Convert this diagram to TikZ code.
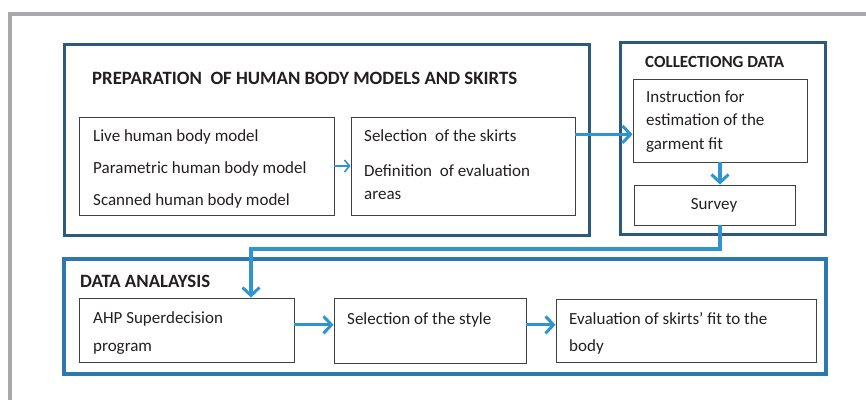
\documentclass[tikz,border=0pt]{standalone}
\usepackage{fontspec}
\setmainfont{Carlito}
\usetikzlibrary{arrows.meta,fit,calc}
\definecolor{framegray}{HTML}{A7A9AC}
\definecolor{darkblue}{HTML}{2C5A7E}
\definecolor{midblue}{HTML}{2E78B2}
\definecolor{flowblue}{HTML}{2F95D2}
\definecolor{inkgray}{HTML}{231F20}
\tikzset{
	stagebox/.style={draw=darkblue,line width=3pt,inner sep=0pt},
	stepbox/.style={draw=black!75,line width=0.9pt,inner sep=0pt},
	heading/.style={anchor=base west,inner sep=0pt,text=inkgray,font=\bfseries\fontsize{18.8}{22}\selectfont},
	label/.style={anchor=base west,inner sep=0pt,text=inkgray,font=\fontsize{17}{20}\selectfont},
	flow/.style={draw=flowblue,line width=3.2pt,-{Straight Barb[length=8pt,width=17pt,line width=3pt]}},
	thinflow/.style={draw=flowblue,line width=1.5pt,-{Straight Barb[length=5pt,width=12pt,line width=1.6pt]}},
}
\begin{document}
\begin{tikzpicture}[x=1pt,y=-1pt]
		\useasboundingbox (0,0) rectangle (866,400);
		
		% grey frame, top and left only
		\draw[framegray,line width=4pt] (9.5,400) -- (9.5,13.5) -- (866,13.5);
		
		% outer stages
		\node[stagebox,fit={(64,44)(589,235)}] (prep) {};
		\node[stagebox,fit={(620,42)(825,234)}] (collect) {};
		\node[stagebox,draw=midblue,line width=3.5pt,fit={(64,259)(826,374)}] (analysis) {};
		
		% steps inside the stages
		\node[stepbox,fit={(79,117)(334,215)}] (models) {};
		\node[stepbox,fit={(351,117)(575,215)}] (skirts) {};
		\node[stepbox,fit={(633,79)(807,162)}] (instr) {};
		\node[stepbox,fit={(634,185)(795,225)}] (survey) {};
		\node[stepbox,fit={(79,298)(294,362)}] (ahp) {};
		\node[stepbox,fit={(334,298)(526,363)}] (style) {};
		\node[stepbox,fit={(556,299)(816,362)}] (fit) {};
		
		% headings
		\node[heading] (hprep) at (92,84) {PREPARATION\ \ OF HUMAN BODY MODELS AND SKIRTS};
		\node[heading,font=\bfseries\fontsize{17}{20}\selectfont] (hcollect) at (645,67) {COLLECTIONG DATA};
		\node[heading] (hanalysis) at (80,287) {DATA ANALAYSIS};
		
		% texts of the steps
		\node[label] (live) at (93,141) {Live human body model};
		\node[label] (param) at (93,173) {Parametric human body model};
		\node[label] (scan) at (93,205) {Scanned human body model};
		\node[label] (sel) at (364,141) {Selection\ \ of the skirts};
		\node[label] (def) at (364,176) {Definition\ \ of evaluation};
		\node[label] (areas) at (364,199) {areas};
		\node[label] (ins1) at (646,102) {Instruction for};
		\node[label] (ins2) at (646,125) {estimation of the};
		\node[label] (ins3) at (646,149) {garment fit};
		\node[label,anchor=base] (surv) at (714,209) {Survey};
		\node[label] (ahp1) at (93,323) {AHP Superdecision};
		\node[label] (ahp2) at (93,351) {program};
		\node[label] (sty) at (347,324) {Selection of the style};
		\node[label] (fit1) at (569,324) {Evaluation of skirts’ fit to the};
		\node[label] (fit2) at (569,351) {body};
		
		% connectors
		\coordinate (out) at ($(skirts.north east)!0.18!(skirts.south east)$);
		\coordinate (turn) at (251,249);
		\coordinate (mid) at ($(ahp.north east)!0.42!(ahp.south east)$);
		\draw[thinflow] (models.east) -- (skirts.west);
		\draw[flow] (out) -- (instr.west |- out);
		\draw[flow] (instr.south) -- (survey.north -| instr.south);
		\draw[flow] (survey.south -| instr.south) |- (turn) -- (turn |- ahp.north);
		\draw[flow] (mid) -- (style.west |- mid);
		\draw[flow] (style.east |- mid) -- (fit.west |- mid);
		
\end{tikzpicture}
\end{document}
